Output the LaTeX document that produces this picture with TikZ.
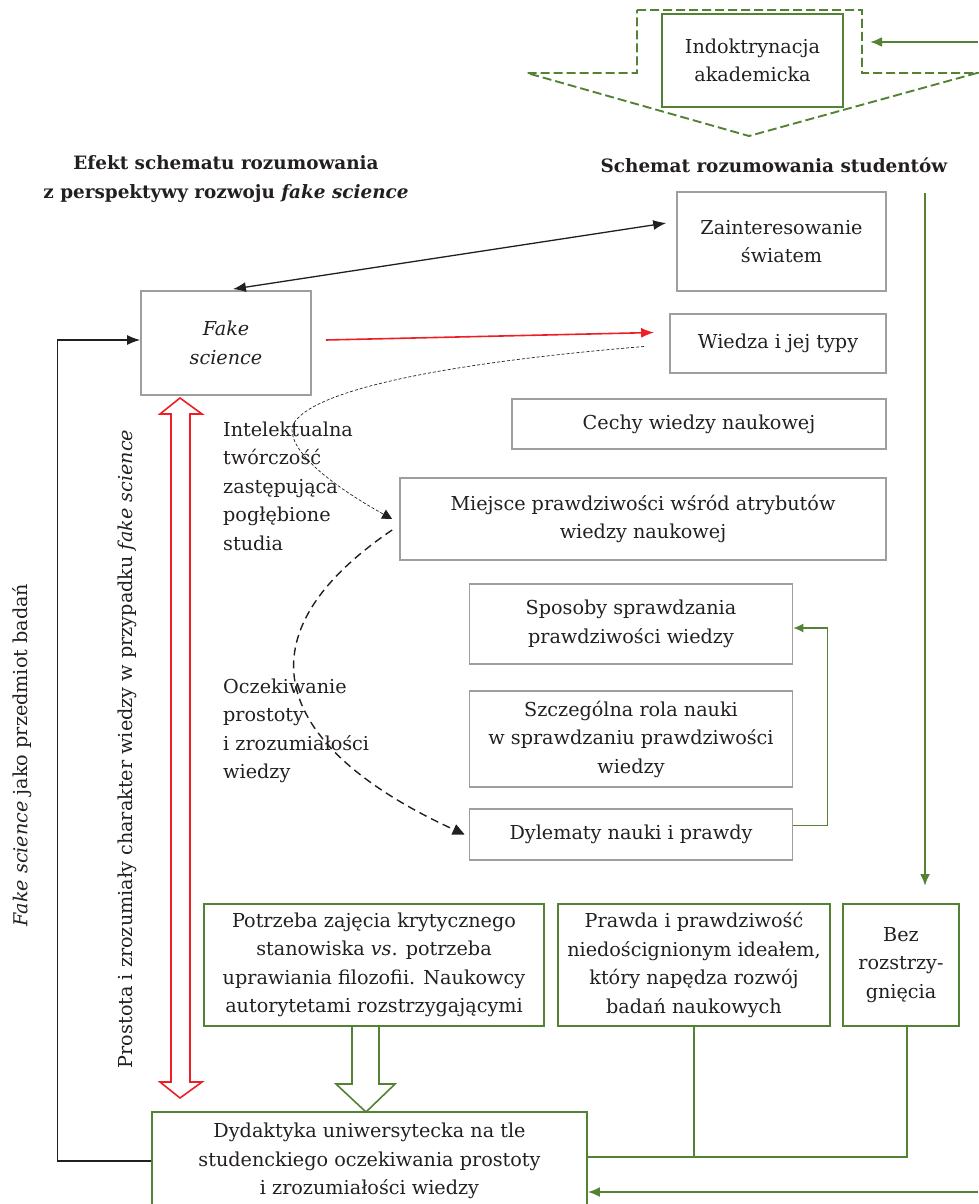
\documentclass[tikz,border=0pt]{standalone}
\usepackage{fontspec}
\setmainfont{DejaVu Serif}
\usepackage{tikz}
\usetikzlibrary{arrows.meta}
\definecolor{dgreen}{RGB}{84,130,53}
\definecolor{dred}{RGB}{237,30,36}
\definecolor{dgray}{RGB}{158,158,158}
\definecolor{ink}{RGB}{35,31,32}
\tikzset{
  graybox/.style={draw=dgray, line width=1.7, align=center, inner sep=2},
  greenbox/.style={draw=dgreen, line width=1.6, align=center, inner sep=2},
  gline/.style={draw=dgreen, line width=1.3},
  garrow/.style={draw=dgreen, line width=2.2, -{Latex[length=12,width=10]}},
  blarrow/.style={draw=ink, line width=1.3, -{Latex[length=13,width=10]}},
  heading/.style={font=\fontsize{18.4}{28.5}\selectfont\bfseries, align=center}
}

\begin{document}
\begin{tikzpicture}[x=1pt, y=-1pt, font=\fontsize{19.2}{28.5}\selectfont, text=ink]
\useasboundingbox (0,0) rectangle (978,1204);

\draw[dgreen, line width=1.9, dash pattern=on 9pt off 4pt]
  (637,10) -- (862,10) -- (862,73) -- (977,73) -- (749,136) -- (527,73) -- (637,73) -- cycle;

\node[heading] (headl) at (226,179) {Efekt schematu rozumowania\\z perspektywy rozwoju \textit{fake science}};
\node[heading] (headr) at (774,165) {Schemat rozumowania studentów};

\begin{scope}[every node/.style={graybox}]
  \node[minimum width=170, minimum height=104] (fake) at (226,343) {\textit{Fake}\\\textit{science}};
  \node[minimum width=209, minimum height=99] (zaint) at (781.5,241.5) {Zainteresowanie\\światem};
  \node[minimum width=216, minimum height=59] (wiedza) at (778,343.5) {Wiedza i jej typy};
  \node[minimum width=374, minimum height=50] (cechy) at (699,424) {Cechy wiedzy naukowej};
  \node[minimum width=486, minimum height=82] (miejsce) at (643,519) {Miejsce prawdziwości wśród atrybutów\\wiedzy naukowej};
  \node[minimum width=323, minimum height=80] (sposoby) at (631,624) {Sposoby sprawdzania\\prawdziwości wiedzy};
  \node[minimum width=323, minimum height=96] (szczeg) at (631,739) {Szczególna rola nauki\\w sprawdzaniu prawdziwości\\wiedzy};
  \node[minimum width=323, minimum height=51] (dylem) at (631,834.5) {Dylematy nauki i prawdy};
\end{scope}

\begin{scope}[every node/.style={greenbox}]
  \node[minimum width=181, minimum height=93] (indo) at (752.5,60.5) {Indoktrynacja\\akademicka};
  \node[minimum width=340, minimum height=122] (potrz) at (374,965) {Potrzeba zajęcia krytycznego\\stanowiska \textit{vs}. potrzeba\\uprawiania filozofii. Naukowcy\\autorytetami rozstrzygającymi};
  \node[minimum width=272, minimum height=122] (prawda) at (694,965) {Prawda i prawdziwość\\niedoścignionym ideałem,\\który napędza rozwój\\badań naukowych};
  \node[minimum width=116, minimum height=122] (bez) at (901,965) {Bez\\rozstrzy-\\gnięcia};
  \node[minimum width=435, minimum height=98] (dyd) at (369.5,1161) {Dydaktyka uniwersytecka na tle\\studenckiego oczekiwania prostoty\\i zrozumiałości wiedzy};
\end{scope}

\begin{scope}[every node/.style={align=left, inner sep=0, anchor=west}]
  \node (lab1) at (223,486) {Intelektualna\\twórczość\\zastępująca\\pogłębione\\studia};
  \node (lab2) at (223,731) {Oczekiwanie\\prostoty\\i zrozumiałości\\wiedzy};
\end{scope}

\node[rotate=90] (side1) at (22,755) {\textit{Fake science} jako przedmiot badań};
\node[rotate=90] (side2) at (127,749) {Prostota i zrozumiały charakter wiedzy w przypadku \textit{fake science}};

\coordinate (inR) at (978,42);
\coordinate (inL) at (870,42);
\coordinate (gtop) at (925,193);
\coordinate (gbot) at (925,886);
\coordinate (botR) at (978,1192);

\draw[garrow] (inR) -- (inL);
\draw[garrow] (gtop) -- (gbot);
\draw[garrow] (botR) -- ([yshift=-31pt]dyd.east);
\draw[gline, -{Latex[length=10,width=9]}] ([yshift=9pt]dylem.east) -- ++(34,0) |- ([yshift=-4pt]sposoby.east);
\draw[gline] ([xshift=6pt]bez.south) |- ([yshift=4pt]dyd.east);
\draw[gline] (prawda.south) -- ++(0,131);

\draw[blarrow, {Latex[length=13,width=10]}-{Latex[length=13,width=10]}, shorten <=7pt, shorten >=10pt]
  (fake.north) -- ([yshift=20pt]zaint.west);
\draw[blarrow] (dyd.west) -- ++(-94,0) |- ([yshift=3pt]fake.west);
\draw[dred, line width=1.6, -{Latex[length=13,width=10]}] ([xshift=14pt,yshift=3pt]fake.east) -- ([xshift=-15pt,yshift=11pt]wiedza.west);

\draw[ink, line width=0.7, dash pattern=on 3pt off 2pt, -{Triangle[length=10,width=10]}]
  ([xshift=-25pt,yshift=-3pt]wiedza.west) .. controls (420,365) and (300,395) .. (292,428)
  .. controls (290,455) and (340,490) .. ([xshift=-7pt]miejsce.west);
\draw[ink, line width=1.4, dash pattern=on 8pt off 5pt, -{Triangle[length=12,width=11]}]
  ([xshift=-7pt,yshift=-11pt]miejsce.west) .. controls (230,640) and (280,750) .. ([xshift=-4pt]dylem.west);

\draw[dred, line width=1.6]
  (180,398) -- (202,414) -- (190,414) -- (190,1082) -- (202,1082) -- (180,1098)
  -- (160,1082) -- (171,1082) -- (171,414) -- (160,414) -- cycle;
\draw[dgreen, line width=1.6]
  (352,1026) -- (352,1084) -- (336,1084) -- (366,1112) -- (395,1084) -- (379,1084) -- (379,1026);
\end{tikzpicture}
\end{document}
